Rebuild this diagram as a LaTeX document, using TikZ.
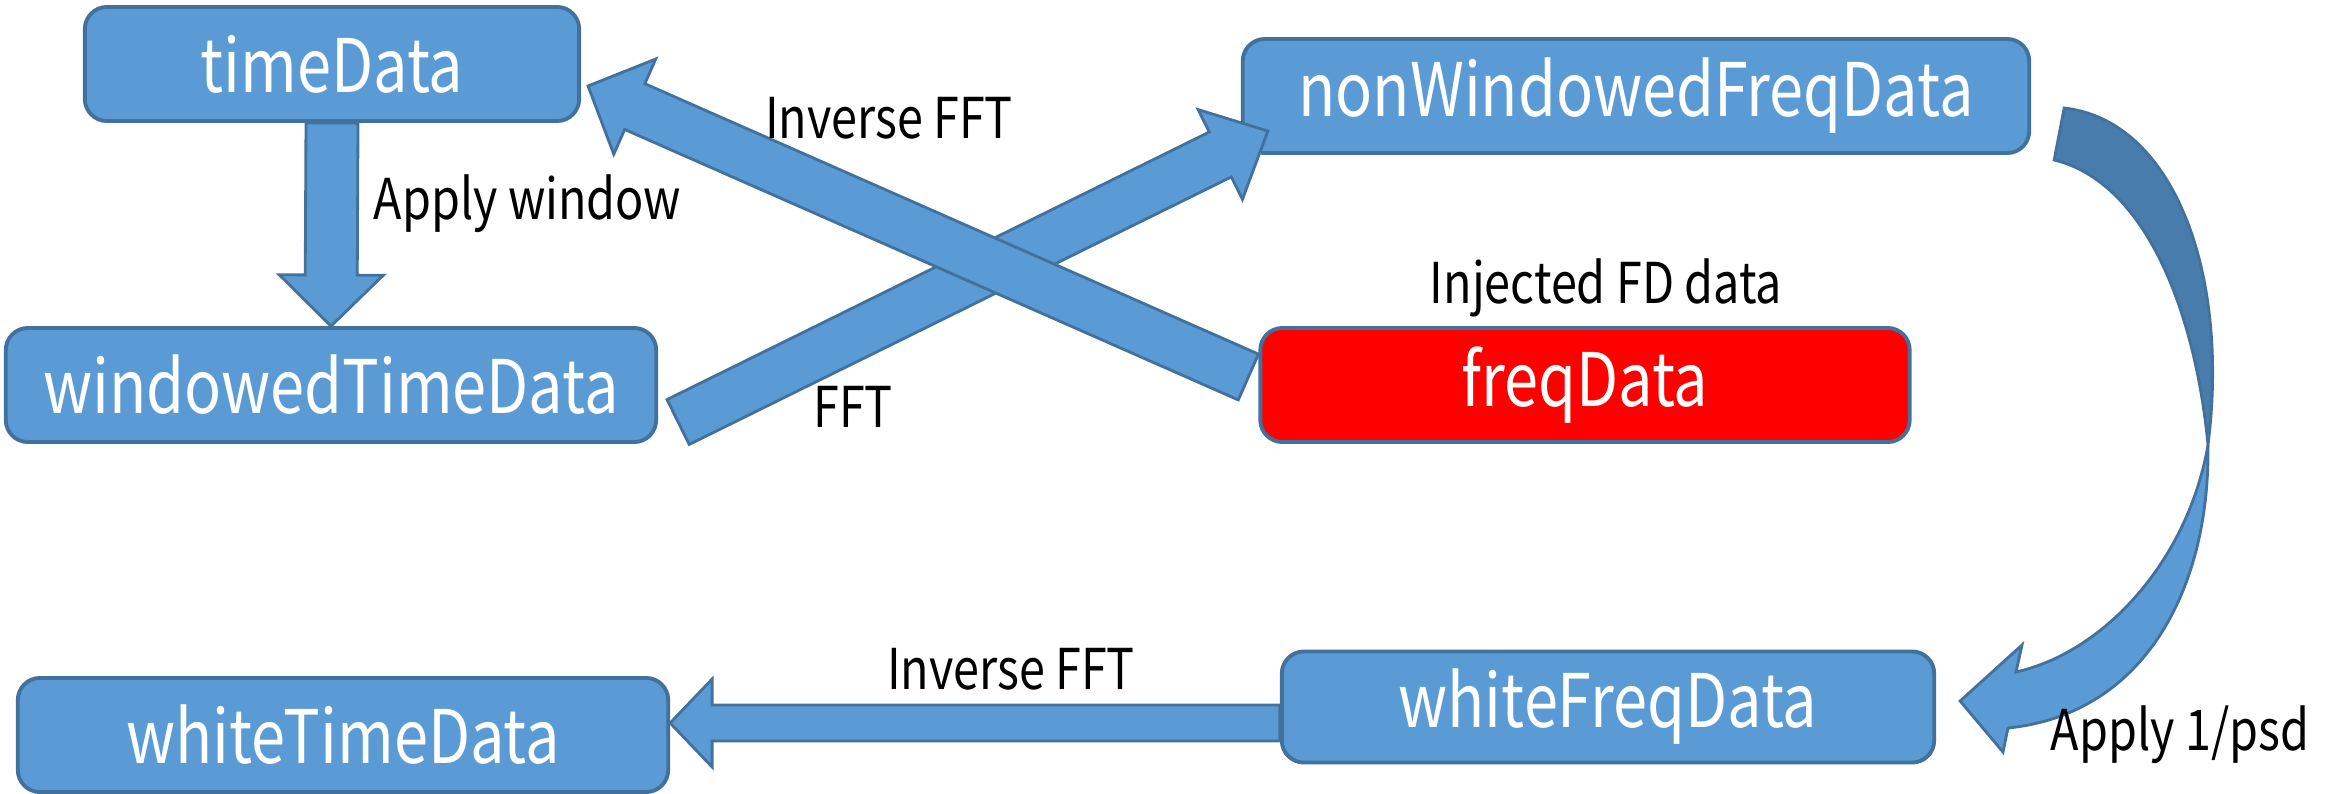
\documentclass[tikz,border=0pt]{standalone}
\usepackage{fontspec}
\setmainfont{Noto Sans CJK KR}[FakeStretch=0.83]
\usepackage{tikz}
\usetikzlibrary{calc}

\definecolor{boxblue}{HTML}{5B9BD5}
\definecolor{edgeblue}{HTML}{41719C}
\definecolor{backblue}{HTML}{487CAC}

\tikzset{
	box/.style={draw=edgeblue, line width=1.1pt, fill=boxblue, rounded corners=0.22cm,
		text=white, font=\fontsize{21}{25}\selectfont, inner sep=0pt,
		minimum width=#1, minimum height=1.14cm},
	redbox/.style={box=#1, fill=red},
	blockfill/.style={fill=boxblue, draw=edgeblue, line width=0.8pt, line join=miter},
	lbl/.style={font=\fontsize{16}{19}\selectfont, inner sep=0pt}
}

% start, end, shaft half width, head half width, head length
\newcommand\blockarrow[5]{
	\coordinate (ba-h) at ($(#2)!#5!(#1)$);
	\filldraw[blockfill] ($(#1)!#3!90:(#2)$) -- ($(ba-h)!#3!90:(#2)$)
		-- ($(ba-h)!#4!90:(#2)$) -- (#2) -- ($(ba-h)!#4!-90:(#2)$)
		-- ($(ba-h)!#3!-90:(#2)$) -- ($(#1)!#3!-90:(#2)$) -- cycle;
}

\begin{document}
\begin{tikzpicture}[x=0.01cm, y=-0.01cm]
			\useasboundingbox (0,0) rectangle (2338,793);

			\node[box=4.94cm] (td) at (332,64) {timeData};
			\node[box=6.50cm] (wtd) at (331,385) {windowedTimeData};
			\node[box=7.86cm] (nwfd) at (1636,96) {nonWindowedFreqData};
			\node[redbox=6.49cm] (fd) at (1585,385) {freqData};
			\node[box=6.52cm, minimum height=1.11cm] (wfd) at (1608,707) {whiteFreqData};
			\node[box=6.50cm] (wht) at (343,735) {whiteTimeData};

			\coordinate (fftS) at ($(wtd.east)+(20,37)$);
			\coordinate (fftE) at ($(nwfd.west)+(27,35)$);
			\coordinate (ifftS) at ($(fd.west)+(-10,-8)$);
			\coordinate (ifftE) at ($(td.east)+(7,22)$);
			\coordinate (wifS) at ($(wfd.west)+(0,16)$);
			\coordinate (wifE) at (wht.east |- wifS);
			\coordinate (psdE) at ($(wfd.east)+(24,-6)$);

			\blockarrow{td.south}{wtd.north}{0.26cm}{0.52cm}{0.51cm}
			\blockarrow{fftS}{fftE}{0.25cm}{0.50cm}{0.53cm}
			\blockarrow{ifftS}{ifftE}{0.25cm}{0.52cm}{0.51cm}
			\blockarrow{wifS}{wifE}{0.18cm}{0.44cm}{0.42cm}

			\coordinate (ca) at ($(nwfd.east)+(33,12)$);
			\coordinate (cb) at ($(nwfd.east)+(23,64)$);
			\coordinate (cx) at (2208,445);
			\filldraw[blockfill, fill=backblue] (ca) .. controls (2172,120) and (2230,270) .. (cx)
				.. controls (2195,310) and (2145,182) .. (cb) -- cycle;
			\filldraw[blockfill] (cx) .. controls (2188,560) and (2105,652) .. (2016,672)
				-- (2022,645) -- (psdE) -- (2003,752) -- (2008,728)
				.. controls (2145,714) and (2210,588) .. (cx) -- cycle;

			\node[lbl, anchor=west] (aw) at (373,204) {Apply window};
			\node[lbl] (ifl) at (889,118) {Inverse FFT};
			\node[lbl] (ffl) at (853,407) {FFT};
			\node[lbl] (inj) at (1606,288) {Injected FD data};
			\node[lbl] (wifl) at (1011,669) {Inverse FFT};
			\node[lbl] (psd) at (2180,735) {Apply 1/psd};
		\end{tikzpicture}
\end{document}
